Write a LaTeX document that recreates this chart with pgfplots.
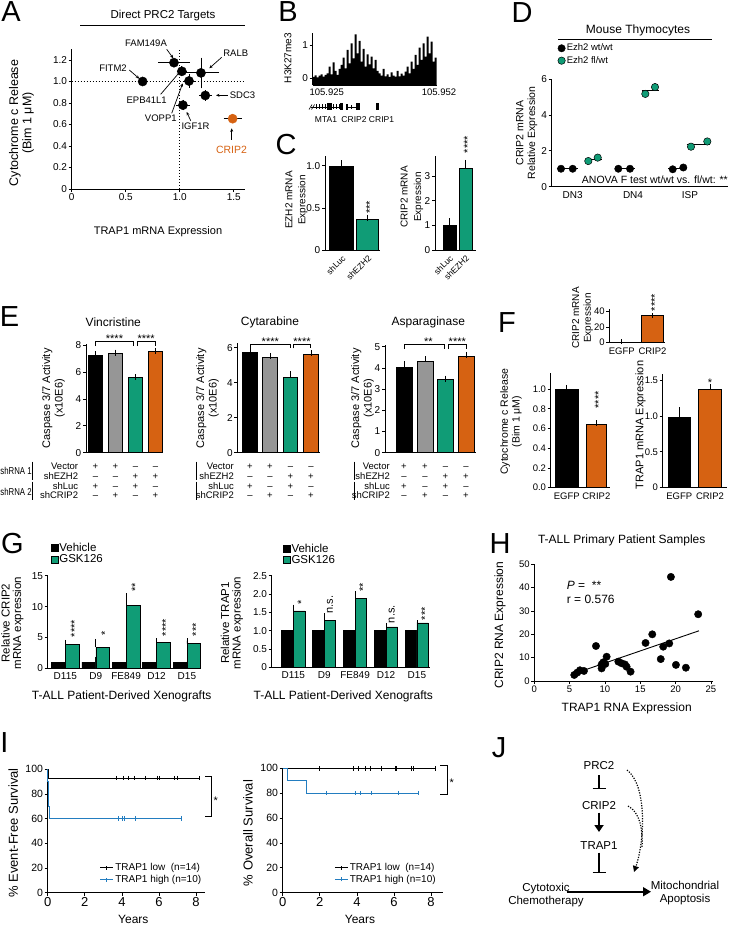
\documentclass[border=0pt]{standalone}
\usepackage{fontspec}
\setmainfont{Liberation Sans}
\usepackage{graphicx}
\usepackage{pgfplots}
\pgfplotsset{compat=1.18}
\usetikzlibrary{arrows.meta}
\definecolor{gr}{RGB}{16,156,118}
\definecolor{og}{RGB}{214,98,18}
\definecolor{gy}{RGB}{150,150,150}
\definecolor{bl}{RGB}{35,125,192}
\newcommand\fs[1]{\fontsize{#1}{#1}\selectfont}
\newcommand\fss[2]{\fontsize{#1}{#2}\selectfont}
\pgfplotsset{
  gp/.style={scale only axis, clip=false, axis lines=left, anchor=south west,
    axis line style={-, line width=0.8pt, black},
    every tick/.style={black, line width=0.7pt},
    tick align=outside, major tick length=3pt,
    tick label style={font=\fs{10}, inner sep=1.5pt},
    /pgf/number format/assume math mode=true},
  bb/.style={ybar, bar shift=0pt, bar width=#1, draw=black, line width=0.6pt},
  eb/.style={error bars/y dir=plus, error bars/y explicit,
    error bars/error bar style={line width=0.7pt, black},
    error bars/error mark options={black, mark size=#1, line width=0.7pt}},
  eb/.default=3pt,
}
\newcommand\etab[6]{%
  \begin{scope}[every node/.style={font=\fs{9.5}, anchor=base, inner sep=0pt}]
  \node[anchor=base east] at (#5,469.5) {Vector};
  \node[anchor=base east] at (#5,479.2) {shEZH2};
  \node[anchor=base east] at (#5,489) {shLuc};
  \node[anchor=base east] at (#5,498.7) {shCRIP2};
  \draw[line width=1pt] (#6,461.5) -- (#6,479.5);
  \draw[line width=1pt] (#6,481.5) -- (#6,499.5);
  \node at (#1,469.5) {+}; \node at (#2,469.5) {+}; \node at (#3,469.5) {--}; \node at (#4,469.5) {--};
  \node at (#1,479.2) {--}; \node at (#2,479.2) {--}; \node at (#3,479.2) {+}; \node at (#4,479.2) {+};
  \node at (#1,489) {+}; \node at (#2,489) {--}; \node at (#3,489) {+}; \node at (#4,489) {--};
  \node at (#1,498.7) {--}; \node at (#2,498.7) {+}; \node at (#3,498.7) {--}; \node at (#4,498.7) {+};
  \end{scope}}
\begin{document}
\begin{tikzpicture}[x=1pt,y=-1pt]
\useasboundingbox (0,0) rectangle (734,925);
% panel letters
\begin{scope}[every node/.style={font=\fs{29}}]
\node at (11,12) {A}; \node at (288,12) {B}; \node at (286,145) {C}; \node at (522,13) {D};
\node at (9.5,316.5) {E}; \node at (507,322.5) {F}; \node at (12.5,543.5) {G}; \node at (500,544) {H};
\node at (4.5,743) {I}; \node at (499,748) {J};
\end{scope}

% ================= A =================
\begin{axis}[gp, at={(71.7pt,-189pt)}, width=172.8pt, height=139.75pt,
  xmin=0, xmax=1.6, ymin=0, ymax=1.3,
  xtick={0,0.5,1,1.5}, xticklabels={0,0.5,1.0,1.5},
  ytick={0,0.2,0.4,0.6,0.8,1,1.2}, yticklabels={0,0.2,0.4,0.6,0.8,1.0,1.2}]
\addplot[black, line width=1pt, dash pattern=on 1.2pt off 1.8pt] coordinates {(1,0) (1,1.3)};
\addplot[black, line width=1pt, dash pattern=on 1.2pt off 1.8pt] coordinates {(0,1) (1.6,1)};
\addplot[only marks, mark=*, mark size=4.6pt, black,
  error bars/.cd, x dir=both, x explicit, y dir=both, y explicit,
  error bar style={line width=0.8pt, black}, error mark options={black, mark size=3pt, line width=0.8pt}]
  coordinates {(0.657,1.00) +- (0.012,0.01) (0.947,1.175) +- (0.12,0) (1.02,1.095) +- (0.02,0.02)
   (1.086,1.005) +- (0.025,0.035) (1.197,1.08) +- (0.14,0.115) (1.237,0.87) +- (0.03,0.02) (1.03,0.78) +- (0.035,0.02)};
\addplot[only marks, mark=*, mark size=4.6pt, og, mark options={fill=og, draw=og},
  error bars/.cd, x dir=both, x explicit, error bar style={line width=0.8pt, black},
  error mark options={black, mark size=3pt, line width=0.8pt}]
  coordinates {(1.49,0.654) +- (0.055,0)};
\end{axis}
\node[font=\fs{11.5}] at (163,16) {Direct PRC2 Targets};
\draw[line width=0.8pt] (80,25) -- (245,25);
\node[rotate=90, align=center, font=\fss{12.5}{13.3}] at (21.6,123) {Cytochrome c Release\\(Bim 1 μM)};
\node[font=\fs{11}] at (158,232) {TRAP1 mRNA Expression};
\begin{scope}[every node/.style={font=\fs{9.5}}, ->, >={Stealth[length=3.5pt,width=3pt]}, line width=0.7pt]
\node at (146,43.3) {FAM149A}; \draw (166.7,49.3) -- (173.3,58.3);
\node[anchor=west, inner sep=0pt] at (223,53.3) {RALB}; \draw (221.7,57.3) -- (209.3,68.3);
\node at (113,68.3) {FITM2}; \draw (129.3,70) -- (139.3,78.7);
\node at (146.7,100) {EPB41L1}; \draw (160.7,94.3) -- (180,71.7);
\node at (160.8,118.3) {VOPP1}; \draw (171.7,113.3) -- (182.7,83.3);
\node at (195.5,126.7) {IGF1R}; \draw (190.7,120.7) -- (186.7,112);
\node[anchor=west, inner sep=0pt] at (229.5,95.3) {SDC3}; \draw (227.5,95.3) -- (216,95.3);
\node[text=og, font=\fs{10.5}] at (231.5,150) {CRIP2}; \draw (231.7,140) -- (231.7,128.3);
\end{scope}

% ================= B =================
\begin{axis}[gp, at={(312.7pt,-85pt)}, width=124pt, height=52pt,
  xmin=0, xmax=124, ymin=-0.2, ymax=1.36, xtick=\empty, ytick={0,1}]
\addplot[fill=black, draw=none, const plot] coordinates {
(0,0.04)(2,0.09)(4,0.03)(6,0.08)(8,0.12)(10,0.05)(12,0.10)(14,0.15)(16,0.35)(18,0.12)
(20,0.48)(22,0.22)(24,0.10)(26,0.28)(28,0.40)(30,0.62)(32,0.30)(34,0.85)(36,0.45)(38,1.05)
(40,0.60)(42,1.32)(44,0.75)(46,1.12)(48,0.50)(50,0.88)(52,0.35)(54,0.72)(56,0.42)(58,0.65)
(60,0.30)(62,0.55)(64,0.22)(66,0.15)(68,0.08)(70,0.28)(72,0.06)(74,0.12)(76,0.04)(78,0.18)
(80,0.08)(82,0.05)(84,0.22)(86,0.06)(88,0.14)(90,0.08)(92,0.20)(94,0.35)(96,0.15)(98,0.50)
(100,0.28)(102,0.70)(104,0.40)(106,0.92)(108,0.55)(110,1.05)(112,0.65)(114,1.25)(116,0.75)(118,1.10)
(120,0.50)(122,0.62)(124,0.62)} -- (axis cs:124,-0.2) -- (axis cs:0,-0.2) -- cycle;
\end{axis}
\node[rotate=90, font=\fs{10}] at (288,58) {H3K27me3};
\node[font=\fs{9.5}] at (326.7,92) {105.925};
\node[font=\fs{9.5}] at (439,92.7) {105.952};
\draw[line width=0.7pt] (311,107) -- (343,107);
\draw[line width=0.6pt] (309,109.5) -- (312,104.5) (311.5,109.5) -- (314.5,104.5);
\foreach \x in {316,319,322,325,333,336,339} {\draw[line width=0.6pt] (\x,104.5) -- (\x,109.5);}
\fill (327,103.5) rectangle (331.5,110.5);
\fill (340,103.5) rectangle (343,110.5);
\draw[line width=0.7pt] (346,107) -- (360,107);
\fill (346,104) rectangle (347.5,110); \fill (351,105) rectangle (352,109); \fill (356,103.5) rectangle (360,110.5);
\fill (376,103.5) rectangle (379,110.5);
\node[font=\fs{8.5}] at (326,120) {MTA1};
\node[font=\fs{8.5}] at (354,120) {CRIP2};
\node[font=\fs{8.5}] at (381.5,120) {CRIP1};

% ================= C =================
\begin{axis}[gp, at={(325pt,-250pt)}, width=55pt, height=94.3pt,
  xmin=0, xmax=55, ymin=0, ymax=1.12,
  xtick={16.7,42.5}, xticklabels={shLuc,shEZH2}, xtick style={draw=none},
  x tick label style={rotate=45, anchor=north east, font=\fs{8.5}, inner sep=1pt},
  ytick={0,0.5,1}, yticklabels={0,0.5,1.0}]
\addplot[bb=24pt, fill=black, eb] coordinates {(16.7,1.0) +- (0,0.03)};
\addplot[bb=22pt, fill=gr, eb] coordinates {(42.5,0.37) +- (0,0.015)};
\node[rotate=90, anchor=west, inner sep=0pt, font=\fs{11}] at (axis cs:44.8,0.43) {***};
\end{axis}
\node[rotate=90, align=center, font=\fss{10}{13}] at (296.5,200) {EZH2 mRNA\\Expression};
\begin{axis}[gp, at={(435pt,-250pt)}, width=41pt, height=93.9pt,
  xmin=0, xmax=41, ymin=0, ymax=3.8,
  xtick={14.3,30.3}, xticklabels={shLuc,shEZH2}, xtick style={draw=none},
  x tick label style={rotate=45, anchor=north east, font=\fs{8.5}, inner sep=1pt},
  ytick={0,1,2,3}]
\addplot[bb=13pt, fill=black, eb=2.5pt] coordinates {(14.3,1.0) +- (0,0.19)};
\addplot[bb=13pt, fill=gr, eb=2.5pt] coordinates {(30.3,3.31) +- (0,0.24)};
\node[rotate=90, anchor=west, inner sep=0pt, font=\fs{11}] at (axis cs:32.6,3.91) {****};
\end{axis}
\node[rotate=90, align=center, font=\fss{10}{13.5}] at (412,197) {CRIP2 mRNA\\Expression};

% ================= D =================
\begin{axis}[gp, at={(551.7pt,-186.7pt)}, width=176.3pt, height=107.7pt,
  xmin=0, xmax=176.3, ymin=0, ymax=6,
  xtick={21,81.3,138.3}, xticklabels={DN3,DN4,ISP}, xtick style={draw=none},
  ytick={0,2,4,6},
  legend style={at={(0.034,1.34)}, anchor=north west, draw=none, fill=none, font=\fs{9.5},
    row sep=1pt, inner sep=0pt, nodes={inner sep=1.5pt}},
  legend cell align=left,
  legend image code/.code={\draw[mark repeat=2,mark phase=2,#1] plot coordinates {(0pt,0pt) (4pt,0pt) (8pt,0pt)};}]
\addplot[only marks, mark=*, mark size=3.7pt, black]
  coordinates {(9.3,1.0)(21,1.0)(66.6,1.0)(78.3,1.0)(121,0.97)(131.6,1.07)};
\addlegendentry{Ezh2 wt/wt}
\addplot[only marks, mark=*, mark size=3.7pt, mark options={fill=gr, draw=black, line width=0.5pt}]
  coordinates {(36.6,1.43)(46,1.62)(93.6,5.17)(103.3,5.55)(139.3,2.23)(155.6,2.52)};
\addlegendentry{Ezh2 fl/wt}
\addplot[black, line width=0.9pt, forget plot] coordinates {(5,1.0) (26.6,1.0)};
\addplot[black, line width=0.9pt, forget plot] coordinates {(33.3,1.52) (50,1.52)};
\addplot[black, line width=0.9pt, forget plot] coordinates {(63.3,1.0) (83.3,1.0)};
\addplot[black, line width=0.9pt, forget plot] coordinates {(90,5.36) (107.7,5.36)};
\addplot[black, line width=0.9pt, forget plot] coordinates {(116.6,1.02) (135,1.02)};
\addplot[black, line width=0.9pt, forget plot] coordinates {(135,2.38) (158.3,2.38)};
\end{axis}
\node[font=\fs{12}] at (638,30) {Mouse Thymocytes};
\draw[line width=0.8pt] (558,39.3) -- (712,39.3);
\node[anchor=east, font=\fs{10.5}, inner sep=0pt] at (728,180) {ANOVA F test wt/wt vs. fl/wt: **};
\node[rotate=90, align=center, font=\fss{10.5}{11.7}] at (526.7,133) {CRIP2 mRNA\\Relative Expression};

% ================= E =================
\begin{axis}[gp, at={(86pt,-452.7pt)}, width=77pt, height=109pt,
  xmin=0, xmax=77, ymin=0, ymax=8.1, xtick=\empty, ytick={0,2,4,6,8}]
\addplot[bb=14.3pt, fill=black, eb] coordinates {(9.5,7.25) +- (0,0.05)};
\addplot[bb=14.3pt, fill=gy, eb] coordinates {(29.5,7.38) +- (0,0.05)};
\addplot[bb=14.3pt, fill=gr, eb] coordinates {(49.5,5.57) +- (0,0.04)};
\addplot[bb=14.3pt, fill=og, eb] coordinates {(69.5,7.5) +- (0,0.06)};
\end{axis}
\begin{axis}[gp, at={(237.3pt,-452.7pt)}, width=82.7pt, height=109.4pt,
  xmin=0, xmax=82.7, ymin=0, ymax=6.25, xtick=\empty, ytick={0,2,4,6}]
\addplot[bb=14.5pt, fill=black, eb] coordinates {(12.7,5.75) +- (0,0.05)};
\addplot[bb=14.5pt, fill=gy, eb] coordinates {(32.7,5.47) +- (0,0.06)};
\addplot[bb=14.5pt, fill=gr, eb] coordinates {(53.2,4.33) +- (0,0.15)};
\addplot[bb=14.5pt, fill=og, eb] coordinates {(73.7,5.62) +- (0,0.05)};
\end{axis}
\begin{axis}[gp, at={(385pt,-452.7pt)}, width=91pt, height=108.1pt,
  xmin=0, xmax=91, ymin=0, ymax=5.1, xtick=\empty, ytick={0,1,2,3,4,5}]
\addplot[bb=16pt, fill=black, eb] coordinates {(19,4.05) +- (0,0.12)};
\addplot[bb=16pt, fill=gy, eb] coordinates {(40,4.3) +- (0,0.1)};
\addplot[bb=16pt, fill=gr, eb] coordinates {(60.5,3.45) +- (0,0.05)};
\addplot[bb=16pt, fill=og, eb] coordinates {(81,4.57) +- (0,0.05)};
\end{axis}
\begin{scope}[every node/.style={font=\fs{12}}]
\node at (113.3,322) {Vincristine};
\node at (270,322) {Cytarabine};
\node at (428.3,322) {Asparaginase};
\end{scope}
\begin{scope}[line width=0.8pt]
\draw (95.5,346) |- (133.5,341) -- (133.5,346);
\draw (137,346) |- (155.5,341) -- (155.5,346);
\draw (250,348.3) |- (290.7,344) -- (290.7,348.3);
\draw (293.3,348.3) |- (310.7,344) -- (310.7,348.3);
\draw (404,349) |- (444.3,344) -- (444.3,349);
\draw (448.3,349) |- (466.7,344) -- (466.7,349);
\end{scope}
\begin{scope}[every node/.style={font=\fs{11}, anchor=base, inner sep=0pt}]
\node at (114.5,342) {****}; \node at (146.2,342) {****};
\node at (270.3,345) {****}; \node at (302,345) {****};
\node at (428.3,345) {**}; \node at (457.3,345) {****};
\end{scope}
\begin{scope}[every node/.style={rotate=90, align=center, font=\fss{11}{12.5}}]
\node at (53.5,398.3) {Caspase 3/7 Activity\\(x10E6)};
\node at (207.5,398.3) {Caspase 3/7 Activity\\(x10E6)};
\node at (362.5,398.3) {Caspase 3/7 Activity\\(x10E6)};
\end{scope}
\node[anchor=base west, font=\fs{10}, inner sep=0pt] at (0.3,474) {\scalebox{0.78}[1]{shRNA 1}};
\node[anchor=base west, font=\fs{10}, inner sep=0pt] at (0.3,495) {\scalebox{0.78}[1]{shRNA 2}};
\etab{95.5}{115.5}{135.5}{155.5}{78.3}{32.7}
\etab{250}{270}{290.5}{311}{234}{196}
\etab{404}{425}{445.5}{466}{390}{354.3}

% ================= F =================
\begin{axis}[gp, at={(609.3pt,-342.7pt)}, width=55.7pt, height=34.1pt,
  xmin=0, xmax=55.7, ymin=0, ymax=44,
  xtick={12.4,43.2}, xticklabels={EGFP,CRIP2}, xtick style={draw=none},
  ytick={0,20,40}, tick label style={font=\fs{9.5}}]
\addplot[bb=20pt, fill=black, eb=2.5pt] coordinates {(12.4,1.0) +- (0,0.2)};
\addplot[bb=21.6pt, fill=og, eb=2.5pt] coordinates {(43.2,34.8) +- (0,0.6)};
\node[rotate=90, anchor=west, inner sep=0pt, font=\fs{11}] at (axis cs:45.5,40.5) {****};
\end{axis}
\node[rotate=90, align=center, font=\fss{10}{11.7}] at (582.5,318) {CRIP2 mRNA\\Expression};
\begin{axis}[gp, at={(550.7pt,-487.7pt)}, width=59.3pt, height=114.5pt,
  xmin=0, xmax=59.3, ymin=0, ymax=1.16,
  xtick={16,45.6}, xticklabels={EGFP,CRIP2}, xtick style={draw=none},
  ytick={0,0.2,0.4,0.6,0.8,1}, yticklabels={0.0,0.2,0.4,0.6,0.8,1.0}, tick label style={font=\fs{9.5}}]
\addplot[bb=23pt, fill=black, eb] coordinates {(16,1.0) +- (0,0.012)};
\addplot[bb=20pt, fill=og, eb] coordinates {(45.6,0.642) +- (0,0.012)};
\node[rotate=90, anchor=west, inner sep=0pt, font=\fs{11}] at (axis cs:48,0.8) {****};
\end{axis}
\node[rotate=90, align=center, font=\fss{10.5}{11.7}] at (511,421.7) {Cytochrome c Release\\(Bim 1 μM)};
\begin{axis}[gp, at={(662.7pt,-487.7pt)}, width=64pt, height=114.2pt,
  xmin=0, xmax=64, ymin=0, ymax=1.59,
  xtick={16.5,47.3}, xticklabels={EGFP,CRIP2}, xtick style={draw=none},
  ytick={0,0.5,1,1.5}, yticklabels={0,0.5,1.0,1.5}, tick label style={font=\fs{9.5}}]
\addplot[bb=21.7pt, fill=black, eb] coordinates {(16.5,0.98) +- (0,0.1)};
\addplot[bb=23.3pt, fill=og, eb] coordinates {(47.3,1.37) +- (0,0.03)};
\node[anchor=base, inner sep=0pt, font=\fs{11}] at (axis cs:47.3,1.41) {*};
\end{axis}
\node[rotate=90, font=\fs{11}] at (640.5,425) {TRAP1 mRNA Expression};

% ================= G =================
\begin{axis}[gp, at={(47.7pt,-668.3pt)}, width=152.3pt, height=92.6pt,
  xmin=0, xmax=152.3, ymin=0, ymax=15,
  xtick={17.6,48,78.4,108.8,139.2}, xticklabels={D115,D9,FE849,D12,D15}, xtick style={draw=none},
  ytick={0,5,10,15},
  legend style={at={(0.02,1.36)}, anchor=north west, draw=none, fill=none, font=\fs{11.5},
    row sep=0pt, inner sep=0pt, nodes={inner sep=0.8pt}},
  legend cell align=left,
  legend image code/.code={\draw[#1] (0pt,-3.5pt) rectangle (7pt,3.5pt);}]
\addplot[bb=13.5pt, bar shift=-7pt, fill=black, eb=2.5pt] coordinates {
 (17.6,1.0) +- (0,0.35) (48,1.0) +- (0,0.45) (78.4,1.0) +- (0,0.05) (108.8,1.0) +- (0,0.08) (139.2,1.0) +- (0,0.1)};
\addlegendentry{Vehicle}
\addplot[bb=13.5pt, bar shift=7pt, fill=gr, eb=2.5pt] coordinates {
 (17.6,3.9) +- (0,0.3) (48,3.45) +- (0,0.9) (78.4,10.25) +- (0,1.5) (108.8,4.25) +- (0,0.22) (139.2,4.0) +- (0,0.5)};
\addlegendentry{GSK126}
\begin{scope}[every node/.style={rotate=90, anchor=west, inner sep=0pt, font=\fs{11}}]
\node at (axis cs:26.9,5.0) {****};
\node at (axis cs:57.3,5.3) {*};
\node at (axis cs:87.7,12.4) {**};
\node at (axis cs:118.1,5.2) {****};
\node at (axis cs:148.5,5.2) {***};
\end{scope}
\end{axis}
\begin{axis}[gp, at={(271.7pt,-667.3pt)}, width=158.3pt, height=91.7pt,
  xmin=0, xmax=158.3, ymin=0, ymax=2.5,
  xtick={21.6,52.5,83.4,114.3,145.2}, xticklabels={D115,D9,FE849,D12,D15}, xtick style={draw=none},
  ytick={0,0.5,1,1.5,2,2.5}, yticklabels={0,0.5,1.0,1.5,2.0,2.5},
  legend style={at={(0.071,1.355)}, anchor=north west, draw=none, fill=none, font=\fs{11.5},
    row sep=0pt, inner sep=0pt, nodes={inner sep=0.8pt}},
  legend cell align=left,
  legend image code/.code={\draw[#1] (0pt,-3.5pt) rectangle (7pt,3.5pt);}]
\addplot[bb=11.5pt, bar shift=-5.8pt, fill=black, eb=2.5pt] coordinates {
 (21.6,1.0) +- (0,0.01) (52.5,1.0) +- (0,0.1) (83.4,1.0) +- (0,0.07) (114.3,1.0) +- (0,0.01) (145.2,1.0) +- (0,0.01)};
\addlegendentry{Vehicle}
\addplot[bb=11.5pt, bar shift=5.8pt, fill=gr, eb=2.5pt] coordinates {
 (21.6,1.54) +- (0,0.1) (52.5,1.28) +- (0,0.12) (83.4,1.88) +- (0,0.12) (114.3,1.1) +- (0,0.04) (145.2,1.21) +- (0,0.005)};
\addlegendentry{GSK126}
\begin{scope}[every node/.style={rotate=90, anchor=west, inner sep=0pt, font=\fs{11}}]
\node at (axis cs:29.7,1.7) {*};
\node at (axis cs:58.3,1.46) {n.s.};
\node at (axis cs:91.5,2.06) {**};
\node at (axis cs:120.1,1.2) {n.s.};
\node at (axis cs:153.3,1.28) {***};
\end{scope}
\end{axis}
\node[rotate=90, align=center, font=\fss{11.5}{11.5}] at (12.5,623) {Relative CRIP2\\mRNA expression};
\node[rotate=90, align=center, font=\fss{11.5}{11.5}] at (232,623) {Relative TRAP1\\mRNA expression};
\node[font=\fs{12}] at (121.7,696.7) {T-ALL Patient-Derived Xenografts};
\node[font=\fs{12}] at (343.3,696.7) {T-ALL Patient-Derived Xenografts};

% ================= H =================
\begin{axis}[gp, at={(534.3pt,-681pt)}, width=178.7pt, height=116.7pt,
  xmin=0, xmax=25.3, ymin=0, ymax=50,
  xtick={0,5,10,15,20,25}, ytick={0,10,20,30,40,50}, tick label style={font=\fs{9.5}}]
\addplot[only marks, mark=*, mark size=3.7pt, black] coordinates {
 (5.66,2.6)(6.08,3.6)(6.46,4.6)(7.03,4.3)(8.73,15.0)(9.53,5.4)(9.53,7.1)(9.76,8.0)(10.05,7.3)(10.24,10.4)
 (11.9,8.3)(12.36,7.6)(12.83,7.1)(13.07,6.1)(13.63,4.0)(15.75,16.3)(16.7,20.0)(17.9,9.4)(18.25,14.7)
 (19.1,16.1)(19.34,44.6)(20.05,6.9)(21.46,5.7)(23.2,28.6)};
\addplot[black, line width=0.9pt] coordinates {(7.2,4.79) (23.3,21.5)};
\end{axis}
\node[font=\fs{12}] at (621.7,540) {T-ALL Primary Patient Samples};
\node[anchor=west, font=\fs{12}, inner sep=0pt] at (566.7,585) {\textit{P} =\ \ **};
\node[anchor=west, font=\fs{12}, inner sep=0pt] at (566.7,599.3) {r = 0.576};
\node[rotate=90, font=\fs{12}] at (500,625) {CRIP2 RNA Expression};
\node[font=\fs{12}] at (626.7,708) {TRAP1 RNA Expression};

% ================= I =================
\begin{axis}[gp, at={(47.7pt,-892.7pt)}, width=157.3pt, height=123.4pt,
  xmin=0, xmax=8.48, ymin=0, ymax=100,
  xtick={0,2,4,6,8}, ytick={0,20,40,60,80,100},
  x tick label style={font=\fs{13}}, y tick label style={font=\fs{10.5}},
  legend style={at={(0.33,0.25)}, anchor=north west, draw=none, fill=none, font=\fs{10},
    row sep=0pt, inner sep=0pt, nodes={inner sep=1.5pt}},
  legend cell align=left,
  legend image code/.code={\draw[#1] (0pt,0pt) -- (13pt,0pt); \draw[#1] (6.5pt,-2pt) -- (6.5pt,2pt);}]
\addplot[black, line width=1pt, const plot] coordinates {(0,100) (0.02,92.86) (8.18,92.86)};
\addlegendentry{TRAP1 low\ \ (n=14)}
\addplot[bl, line width=1pt, const plot] coordinates {(0,100) (0.01,90) (0.02,80) (0.04,70) (0.12,60) (7.25,60)};
\addlegendentry{TRAP1 high (n=10)}
\addplot[only marks, mark=|, mark size=2.3pt, black, line width=0.8pt, forget plot] coordinates {
 (3.72,92.86)(4.08,92.86)(4.35,92.86)(4.66,92.86)(5.29,92.86)(5.93,92.86)(6.02,92.86)(6.82,92.86)(7.0,92.86)(8.18,92.86)};
\addplot[only marks, mark=|, mark size=2.3pt, bl, line width=0.8pt, forget plot] coordinates {
 (3.81,60)(4.05,60)(4.14,60)(4.71,60)(7.23,60)};
\end{axis}
\begin{axis}[gp, at={(282.7pt,-892.7pt)}, width=160.6pt, height=124.4pt,
  xmin=0, xmax=8.66, ymin=0, ymax=100,
  xtick={0,2,4,6,8}, ytick={0,20,40,60,80,100},
  x tick label style={font=\fs{13}}, y tick label style={font=\fs{10.5}},
  legend style={at={(0.32,0.25)}, anchor=north west, draw=none, fill=none, font=\fs{10},
    row sep=0pt, inner sep=0pt, nodes={inner sep=1.5pt}},
  legend cell align=left,
  legend image code/.code={\draw[#1] (0pt,0pt) -- (13pt,0pt); \draw[#1] (6.5pt,-2pt) -- (6.5pt,2pt);}]
\addplot[black, line width=1pt, const plot] coordinates {(0,100) (8.22,100)};
\addlegendentry{TRAP1 low\ \ (n=14)}
\addplot[bl, line width=1pt, const plot] coordinates {(0,100) (0.27,90) (1.29,80) (7.32,80)};
\addlegendentry{TRAP1 high (n=10)}
\addplot[only marks, mark=|, mark size=2.3pt, black, line width=0.8pt, forget plot] coordinates {
 (1.98,100)(3.81,100)(4.08,100)(4.44,100)(4.71,100)(5.34,100)(6.06,100)(6.15,100)(6.96,100)(7.05,100)(8.22,100)};
\addplot[only marks, mark=|, mark size=2.3pt, bl, line width=0.8pt, forget plot] coordinates {
 (2.37,80)(3.9,80)(4.17,80)(4.8,80)(6.24,80)(7.32,80)};
\end{axis}
\begin{scope}[line width=1pt]
\draw (205,776) -- (211,776) -- (211,816.7) -- (205,816.7);
\draw (440,765.7) -- (447.3,765.7) -- (447.3,794) -- (440,794);
\end{scope}
\node[anchor=base west, font=\fs{11}, inner sep=0pt] at (213.5,804) {*};
\node[anchor=base west, font=\fs{11}, inner sep=0pt] at (449.5,786.5) {*};
\node[rotate=90, font=\fs{13}] at (13.3,833) {\% Event-Free Survival};
\node[rotate=90, font=\fs{13}] at (248,833) {\% Overall Survival};
\node[font=\fs{12}] at (133.3,919) {Years};
\node[font=\fs{12}] at (360,919) {Years};

% ================= J =================
\begin{scope}[every node/.style={font=\fs{11.5}}]
\node at (599,766) {PRC2};
\node at (599,806) {CRIP2};
\node at (599,846) {TRAP1};
\node[align=center, font=\fss{11.5}{13.4}] at (546,895) {Cytotoxic\\Chemotherapy};
\node[align=center, font=\fss{11.5}{13.4}] at (685,893) {Mitochondrial\\Apoptosis};
\end{scope}
\draw[line width=1.6pt] (599,775) -- (599,788.5) (592.5,788.5) -- (605.5,788.5);
\draw[line width=1.8pt, -{Triangle[length=7pt,width=9pt]}] (599,812.5) -- (599,832);
\draw[line width=1.6pt] (599,852.5) -- (599,872.5) (592.5,872.5) -- (605.5,872.5);
\draw[line width=1.6pt, -{Triangle[length=8pt,width=9pt]}] (566.7,891.7) -- (651,891.7);
\draw[line width=1.2pt, dash pattern=on 1.2pt off 1.4pt, -{Triangle[length=6pt,width=6pt]}] (627,770) .. controls (647,785) and (645,840) .. (634,872);
\draw[line width=1.2pt, dash pattern=on 1.2pt off 1.4pt] (628,806) .. controls (640,812) and (643,830) .. (642,848);
\end{tikzpicture}
\end{document}
